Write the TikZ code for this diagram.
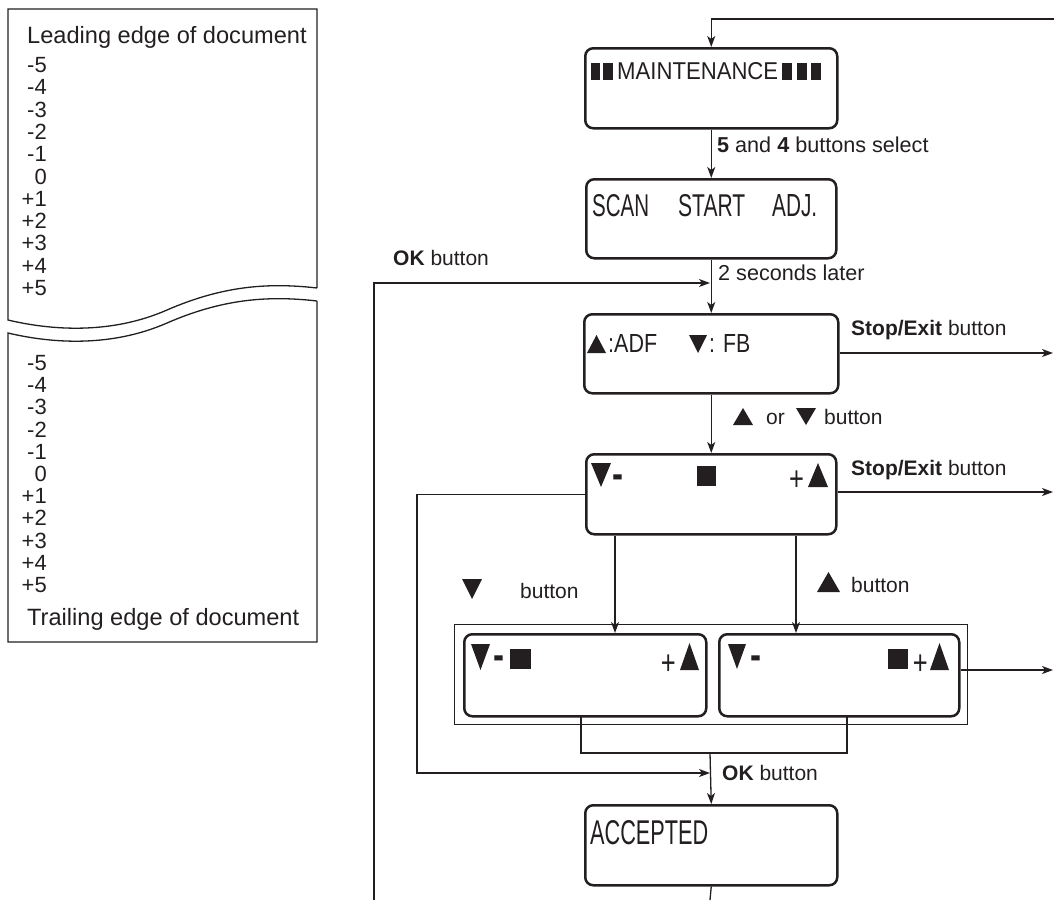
\documentclass[tikz,border=0pt]{standalone}
\usepackage{fontspec}
\setmainfont{Liberation Sans}
\usepackage{graphicx}
\usetikzlibrary{arrows.meta}
\definecolor{ink}{HTML}{231F20}
\newcommand\TriUp[4]{\fill[ink] (#1,#2+#4) -- (#1+#3,#2+#4) -- (#1+#3/2,#2) -- cycle;}
\newcommand\TriDn[4]{\fill[ink] (#1,#2) -- (#1+#3,#2) -- (#1+#3/2,#2+#4) -- cycle;}
\newcommand\BlkSq[4]{\fill[ink] (#1,#2) rectangle (#1+#3,#2+#4);}
\newcommand\lcdplus{\scalebox{0.75}[1.0]{\fontsize{34}{34}\selectfont +}}
\newcommand\lcdminus{\scalebox{1}[1.3]{\fontsize{33}{33}\selectfont\bfseries -}}
\begin{document}
\begin{tikzpicture}[x=1pt,y=-1pt,
  lcd/.style={draw=ink, line width=2.5pt, rounded corners=8pt, inner sep=0pt, anchor=north west},
  conn/.style={draw=ink, line width=1.3pt},
  arr/.style={conn, -{Stealth[length=11pt,width=8pt,inset=3pt]}},
  lbl/.style={inner sep=0pt, anchor=base west, font=\fontsize{21}{25}\selectfont, text=ink},
  lcdtxt/.style={inner sep=0pt, anchor=south west, text=ink},
  glyph/.style={inner sep=0pt, anchor=base west, text=ink},
  doc/.style={inner sep=0pt, text=ink, font=\fontsize{22}{26}\selectfont},
]
\useasboundingbox (0,0) rectangle (1054,900);

% ---------- document sheet (left) ----------
\draw[conn] (317,288) -- (317,9) -- (8,9) -- (8,320)
  .. controls (50,330) and (110,335) .. (167,310)
  .. controls (220,287) and (265,282) .. (317,288);
\draw[conn] (317,301) -- (317,642) -- (8,642) -- (8,333)
  .. controls (50,343) and (110,348) .. (167,323)
  .. controls (220,300) and (265,295) .. (317,301);
\node[doc, anchor=base west, font=\fontsize{23.6}{27}\selectfont] (lead) at (27,43) {Leading edge of document};
\foreach \t [count=\i] in {-5,-4,-3,-2,-1,0,+1,+2,+3,+4,+5} {
  \node[doc, anchor=base east] (u\i) at (47,50.2+22.3*\i) {\t};
  \node[doc, anchor=base east] (d\i) at (47,348.2+22.2*\i) {\t};
}
\node[doc, anchor=base west, font=\fontsize{23.6}{27}\selectfont] (trail) at (27,625) {Trailing edge of document};

% ---------- LCD boxes ----------
\node[lcd, minimum width=252pt, minimum height=80pt] (M) at (584,47) {};
\node[lcd, minimum width=250pt, minimum height=79pt] (S) at (585,178) {};
\node[lcd, minimum width=254pt, minimum height=79pt] (A) at (583,313) {};
\node[lcd, minimum width=250pt, minimum height=80pt] (B3) at (585,453) {};
\node[draw=ink, line width=1.3pt, minimum width=513pt, minimum height=100pt, inner sep=0pt, anchor=north west] (OUT) at (454,624) {};
\node[lcd, minimum width=242pt, minimum height=82pt] (B1) at (463,633) {};
\node[lcd, minimum width=240pt, minimum height=82pt] (B2) at (718,633) {};
\node[lcd, minimum width=252pt, minimum height=80pt] (ACC) at (584,804) {};

% MAINTENANCE
\BlkSq{591}{63}{9}{17}
\BlkSq{603}{63}{10}{17}
\node[lcdtxt] (tM) at (617,80) {\resizebox{161pt}{17pt}{MAINTENANCE}};
\BlkSq{782}{63}{10}{17}
\BlkSq{797}{63}{10}{17}
\BlkSq{811}{63}{10}{17}
% SCAN START ADJ.
\node[lcdtxt] (tS1) at (592,217) {\resizebox{57pt}{22pt}{SCAN}};
\node[lcdtxt] (tS2) at (678,217) {\resizebox{67pt}{22pt}{START}};
\node[lcdtxt] (tS3) at (772,217) {\resizebox{45pt}{22pt}{ADJ.}};
% ADF / FB
\TriUp{587}{335}{19}{18}
\node[lcdtxt] (tA1) at (608,353) {\resizebox{49pt}{18pt}{:ADF}};
\TriDn{689}{335}{18}{18}
\node[lcdtxt] (tA2) at (709,353) {\resizebox{41pt}{18pt}{: FB}};
% B3
\TriDn{591}{463}{20}{24}
\node[glyph] (mB3) at (612,488) {\lcdminus};
\BlkSq{697}{466}{19}{20}
\node[glyph] (pB3) at (789,490) {\lcdplus};
\TriUp{808}{463}{20}{24}
% B1
\TriDn{471}{644}{19}{26}
\node[glyph] (mB1) at (493.5,669) {\lcdminus};
\BlkSq{510}{649}{21}{20}
\node[glyph] (pB1) at (660.6,674) {\lcdplus};
\TriUp{680}{643}{19}{27}
% B2
\TriDn{728}{644}{18}{25}
\node[glyph] (mB2) at (750.5,669) {\lcdminus};
\BlkSq{888}{649}{20}{20}
\node[glyph] (pB2) at (912.6,674) {\lcdplus};
\TriUp{930}{643}{19}{27}
% ACCEPTED
\node[lcdtxt] (tACC) at (590,845) {\resizebox{118pt}{24pt}{ACCEPTED}};

% ---------- connectors ----------
\coordinate (topR) at (1054,19);
\draw[arr] (topR) -| (M.north);
\draw[arr] (M.south) -- (S.north);
\draw[arr] (S.south) -- (A.north);
\coordinate (okL) at (374,900);
\coordinate (okJ) at (710,283);
\draw[arr] (okL) |- (okJ);
\coordinate (ex1) at (1053,353);
\draw[arr] (A.east |- ex1) -- (ex1);
\draw[arr] (A.south) -- (B3.north);
\coordinate (ex2) at (1053,492);
\draw[arr] (B3.east |- ex2) -- (ex2);
\coordinate (lp) at (417,773);
\coordinate (okJ2) at (710,773);
\draw[arr] (B3.west) -| (lp) -- (okJ2);
\coordinate (b1in) at (615,633);
\coordinate (b2in) at (796,633);
\draw[arr] (b1in |- B3.south) -- (b1in);
\draw[arr] (b2in |- B3.south) -- (b2in);
\coordinate (ex3) at (1053,670);
\draw[arr] (B2.east |- ex3) -- (ex3);
\coordinate (b1out) at (581,715);
\coordinate (b2out) at (847,715);
\coordinate (mj) at (710,753);
\draw[conn] (b1out) |- (mj) -| (b2out);
\draw[arr] (mj) -- (ACC.north);
\coordinate (bot) at (710,900);
\draw[conn] (ACC.south) -- (bot);

% ---------- labels ----------
\node[lbl, font=\fontsize{21.6}{25}\selectfont] (l54) at (717,152) {\textbf{5} and \textbf{4} buttons select};
\node[lbl, font=\fontsize{21.6}{25}\selectfont] (l2s) at (718,280) {2 seconds later};
\node[lbl] (lok1) at (393,265) {\textbf{OK} button};
\node[lbl] (lse1) at (851,335) {\textbf{Stop/Exit} button};
\node[lbl] (lse2) at (851,475) {\textbf{Stop/Exit} button};
\TriUp{733}{408}{20}{17}
\node[lbl] (lor) at (766,424) {or};
\TriDn{796}{408}{20}{17}
\node[lbl] (lbt1) at (824,424) {button};
\TriDn{462}{579}{20}{20}
\node[lbl] (lbt2) at (520,598) {button};
\TriUp{817}{572}{23}{20}
\node[lbl] (lbt3) at (851,592) {button};
\node[lbl] (lok2) at (722,780) {\textbf{OK} button};
\end{tikzpicture}
\end{document}
